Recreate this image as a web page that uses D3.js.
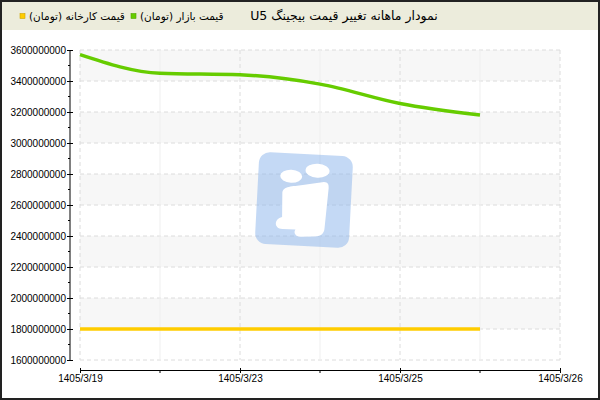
<!DOCTYPE html>
<html>
<head>
<meta charset="utf-8">
<script src="https://cdn.jsdelivr.net/npm/d3@7"></script>
<style>
  body { margin: 0; background: #fff; }
  svg { display: block; font-family: "DejaVu Sans", sans-serif; }
  .axis text { fill: #000; }
  .axis path, .axis line { stroke: #000; }
</style>
</head>
<body>
<svg id="chart" width="600" height="400"></svg>
<script>
const width = 600;
const height = 400;

// data
const titleText = "نمودار ماهانه تغییر قیمت بیجینگ U5";
const seriesNames = ["قیمت کارخانه (تومان)", "قیمت بازار (تومان)"];
const xTickLabels = ["1405/3/19", "", "1405/3/23", "", "1405/3/25", "", "1405/3/26"];
const marketPrice = [3570000000, 3450000000, 3440000000, 3380000000, 3255000000, 3180000000];
const factoryPrice = [1800000000, 1800000000, 1800000000, 1800000000, 1800000000, 1800000000];
const yDomain = [1600000000, 3600000000];

const COLORS = {
    market: "#66cc00",
    factory: "#ffcc00"
};

const plot = { left: 80, right: 560, top: 50, bottom: 360 };

const svg = d3.select("#chart");

const x = d3.scalePoint()
    .domain(d3.range(xTickLabels.length))
    .range([plot.left, plot.right]);

const y = d3.scaleLinear()
    .domain(yDomain)
    .range([plot.bottom, plot.top]);

const yTicks = y.ticks(10);

/* =========================
   HEADER
========================= */

svg.append("rect")
    .attr("x", 0).attr("y", 0)
    .attr("width", width).attr("height", 30)
    .attr("fill", "#ececdc");

// right-to-left title, "U5" ends up at the left end
svg.append("text")
    .attr("x", 344)
    .attr("y", 20)
    .attr("direction", "rtl")
    .attr("text-anchor", "middle")
    .attr("font-size", 12.5)
    .attr("fill", "#000")
    .text(titleText);

const legend = svg.append("g");
const legendItems = [
    { name: seriesNames[0], color: COLORS.factory, x: 20 },
    { name: seriesNames[1], color: COLORS.market, x: 131 }
];

legendItems.forEach(d => {
    legend.append("rect")
        .attr("x", d.x).attr("y", 13.5)
        .attr("width", 5).attr("height", 5)
        .attr("fill", d.color)
        .attr("stroke", d3.color(d.color).darker(0.6))
        .attr("stroke-width", 0.6);
    legend.append("text")
        .attr("x", d.x + 9)
        .attr("y", 19.5)
        .attr("font-size", 10.5)
        .attr("fill", "#000")
        .text(d.name + "\u200F");
});

/* =========================
   BANDS + GRID
========================= */

const gGrid = svg.append("g");

for (let i = 0; i < yTicks.length - 1; i++) {
    if ((yTicks.length - 2 - i) % 2 === 0) {
        gGrid.append("rect")
            .attr("x", plot.left)
            .attr("y", y(yTicks[i + 1]))
            .attr("width", plot.right - plot.left)
            .attr("height", y(yTicks[i]) - y(yTicks[i + 1]))
            .attr("fill", "#f7f7f7");
    }
}

gGrid.selectAll(".hgrid")
    .data(yTicks)
    .enter()
    .append("line")
    .attr("x1", plot.left).attr("x2", plot.right)
    .attr("y1", d => y(d)).attr("y2", d => y(d))
    .attr("stroke", "#dcdcdc")
    .attr("stroke-dasharray", "4,3");

gGrid.selectAll(".vgrid")
    .data(x.domain())
    .enter()
    .append("line")
    .attr("x1", d => x(d)).attr("x2", d => x(d))
    .attr("y1", plot.top).attr("y2", plot.bottom)
    .attr("stroke", d => d % 2 === 0 ? "#dcdcdc" : "#efefef")
    .attr("stroke-dasharray", d => d % 2 === 0 ? "4,3" : null);

/* =========================
   WATERMARK
========================= */

const logo = svg.append("g")
    .attr("transform", "translate(304,200) rotate(3)");

logo.append("rect")
    .attr("x", -47).attr("y", -46)
    .attr("width", 94).attr("height", 92)
    .attr("rx", 11)
    .attr("fill", "#8ab4ec")
    .attr("opacity", 0.5);

logo.append("ellipse")
    .attr("cx", -14).attr("cy", -23)
    .attr("rx", 11).attr("ry", 6.5)
    .attr("fill", "#fff");

logo.append("ellipse")
    .attr("cx", 12).attr("cy", -30)
    .attr("rx", 12).attr("ry", 7)
    .attr("fill", "#fff");

logo.append("path")
    .attr("d", "M -22,-6 C -22,-13 -12,-13 -2,-15 L 19,-19 C 23,-19 24,-17 24,-13 L 22,27 C 22,34 17,36 11,36 L -2,37 C -7,37 -9,33 -7,30 L -20,30 C -29,30 -29,20 -21,18 Z")
    .attr("fill", "#fff");

/* =========================
   SERIES
========================= */

const line = d3.line()
    .x((d, i) => x(i))
    .y(d => y(d))
    .curve(d3.curveMonotoneX);

svg.append("path")
    .datum(factoryPrice)
    .attr("d", line)
    .attr("fill", "none")
    .attr("stroke", COLORS.factory)
    .attr("stroke-width", 3.5);

svg.append("path")
    .datum(marketPrice)
    .attr("d", line)
    .attr("fill", "none")
    .attr("stroke", COLORS.market)
    .attr("stroke-width", 3.5);

/* =========================
   AXES
========================= */

const yAxis = svg.append("g")
    .attr("class", "axis")
    .attr("font-size", 10)
    .attr("transform", "translate(70,0)")
    .call(d3.axisLeft(y).tickValues(yTicks).tickSizeInner(3).tickSizeOuter(0).tickPadding(1).tickFormat(d3.format("d")));

yAxis.selectAll(".tick line").attr("x1", 3);
yAxis.select(".domain").attr("d", `M0,${plot.top}V${plot.bottom}`);

yAxis.selectAll(".minor")
    .data(yTicks.slice(1).map((d, i) => (d + yTicks[i]) / 2))
    .enter()
    .append("line")
    .attr("x1", -2).attr("x2", 0)
    .attr("y1", d => y(d)).attr("y2", d => y(d))
    .attr("stroke", "#e00000");

const xAxis = svg.append("g")
    .attr("class", "axis")
    .attr("font-size", 10.5)
    .attr("transform", "translate(0,370)")
    .call(d3.axisBottom(x)
        .tickValues(x.domain().filter(i => i % 2 === 0))
        .tickSizeInner(3).tickSizeOuter(0).tickPadding(2)
        .tickFormat(i => xTickLabels[i]));

xAxis.selectAll(".tick line").attr("y1", -2);

xAxis.selectAll(".minor")
    .data(x.domain().filter(i => i % 2 === 1))
    .enter()
    .append("line")
    .attr("x1", d => x(d)).attr("x2", d => x(d))
    .attr("y1", 1).attr("y2", 3)
    .attr("stroke", "#999");

/* =========================
   FRAME
========================= */

svg.append("rect")
    .attr("x", 1).attr("y", 1)
    .attr("width", width - 2).attr("height", height - 2)
    .attr("fill", "none")
    .attr("stroke", "#222")
    .attr("stroke-width", 2);
</script>
</body>
</html>
